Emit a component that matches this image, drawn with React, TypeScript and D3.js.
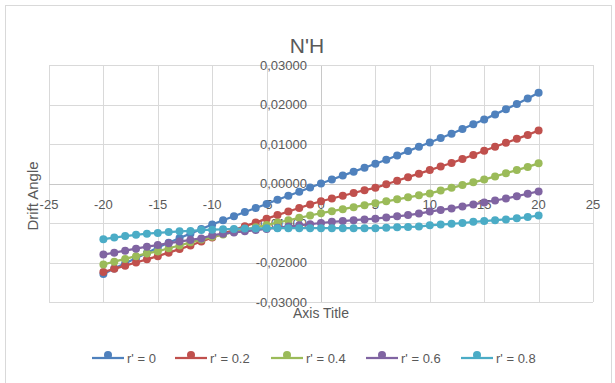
import React, { useEffect, useRef } from 'react';
import * as d3 from 'd3';

// drift angle sample points
const driftX = [-20, -19, -18, -17, -16, -15, -14, -13, -12, -11, -10, -9, -8, -7, -6, -5, -4, -3, -2, -1, 0,
  1, 2, 3, 4, 5, 6, 7, 8, 9, 10, 11, 12, 13, 14, 15, 16, 17, 18, 19, 20];

const r00 = [-0.0229, -0.0215, -0.0202, -0.0189, -0.0176, -0.0162, -0.0150, -0.0138, -0.0127, -0.0115, -0.0104,
  -0.0093, -0.0083, -0.0072, -0.0062, -0.0052, -0.0041, -0.0031, -0.0021, -0.0010, 0.0000,
  0.0010, 0.0020, 0.0030, 0.0040, 0.0050, 0.0060, 0.0071, 0.0082, 0.0093, 0.0104,
  0.0115, 0.0126, 0.0138, 0.0150, 0.0162, 0.0175, 0.0188, 0.0201, 0.0215, 0.0230];

const r02 = [-0.0224, -0.0216, -0.0208, -0.0200, -0.0192, -0.0184, -0.0175, -0.0166, -0.0157, -0.0147, -0.0137,
  -0.0127, -0.0118, -0.0108, -0.0099, -0.0089, -0.0080, -0.0071, -0.0062, -0.0053, -0.0045,
  -0.0038, -0.0031, -0.0024, -0.0017, -0.0011, -0.0002, 0.0007, 0.0016, 0.0025, 0.0034,
  0.0043, 0.0052, 0.0062, 0.0072, 0.0083, 0.0093, 0.0103, 0.0113, 0.0123, 0.0134];

const r04 = [-0.0205, -0.0198, -0.0191, -0.0184, -0.0177, -0.0172, -0.0164, -0.0157, -0.0149, -0.0142, -0.0135,
  -0.0129, -0.0123, -0.0117, -0.0111, -0.0105, -0.0099, -0.0093, -0.0087, -0.0081, -0.0075,
  -0.0070, -0.0065, -0.0060, -0.0055, -0.0050, -0.0045, -0.0040, -0.0035, -0.0030, -0.0025,
  -0.0018, -0.0011, -0.0004, 0.0003, 0.0010, 0.0018, 0.0026, 0.0034, 0.0042, 0.0051];

const r06 = [-0.0180, -0.0175, -0.0170, -0.0165, -0.0160, -0.0156, -0.0151, -0.0147, -0.0143, -0.0139, -0.0131,
  -0.0127, -0.0124, -0.0121, -0.0118, -0.0115, -0.0112, -0.0109, -0.0106, -0.0103, -0.0100,
  -0.0097, -0.0095, -0.0093, -0.0091, -0.0089, -0.0086, -0.0083, -0.0080, -0.0076, -0.0071,
  -0.0067, -0.0063, -0.0058, -0.0053, -0.0048, -0.0043, -0.0038, -0.0032, -0.0026, -0.0020];

const r08 = [-0.0141, -0.0137, -0.0133, -0.0130, -0.0127, -0.0125, -0.0123, -0.0121, -0.0120, -0.0118, -0.0117,
  -0.0116, -0.0115, -0.0114, -0.0114, -0.0113, -0.0113, -0.0113, -0.0113, -0.0113, -0.0113,
  -0.0113, -0.0113, -0.0113, -0.0113, -0.0113, -0.0112, -0.0111, -0.0110, -0.0109, -0.0106,
  -0.0104, -0.0102, -0.0100, -0.0097, -0.0095, -0.0093, -0.0091, -0.0088, -0.0085, -0.0081];

const seriesNames = ["r' = 0", "r' = 0.2", "r' = 0.4", "r' = 0.6", "r' = 0.8"];
const seriesValues = [r00, r02, r04, r06, r08];
const seriesColors = ['#4F81BD', '#C0504D', '#9BBB59', '#8064A2', '#4BACC6'];

const xTicks = [-25, -20, -15, -10, -5, 0, 5, 10, 15, 20, 25];
const yTicks = [-0.03, -0.02, -0.01, 0, 0.01, 0.02, 0.03];

const legendX = [92, 175, 271, 366, 461];

const App = () => {
  const svgRef = useRef<SVGSVGElement>(null);

  useEffect(() => {
    const width = 615;
    const height = 383;
    const font = "'Liberation Sans', Arial, sans-serif";
    const textColor = '#595959';

    const svg = d3.select(svgRef.current);
    svg.selectAll('*').remove();

    svg.append('rect').attr('width', width).attr('height', height).attr('fill', '#fff');
    // chart border
    svg.append('rect')
      .attr('x', 5.5).attr('y', 5.5)
      .attr('width', 606).attr('height', 420)
      .attr('fill', 'none').attr('stroke', '#d9d9d9');

    const x = d3.scaleLinear().domain([-25, 25]).range([49, 593]);
    const y = d3.scaleLinear().domain([-0.03, 0.03]).range([302, 65]);

    // grid
    svg.append('g').selectAll('line.v').data(xTicks).join('line')
      .attr('x1', d => Math.round(x(d)) + 0.5).attr('x2', d => Math.round(x(d)) + 0.5)
      .attr('y1', y(0.03)).attr('y2', y(-0.03))
      .attr('stroke', d => (d === 0 ? '#c8c8c8' : '#d9d9d9'));
    svg.append('g').selectAll('line.h').data(yTicks).join('line')
      .attr('y1', d => Math.round(y(d)) + 0.5).attr('y2', d => Math.round(y(d)) + 0.5)
      .attr('x1', x(-25)).attr('x2', x(25))
      .attr('stroke', d => (d === 0 ? '#c8c8c8' : '#d9d9d9'));

    // tick labels (under the series, as in the original)
    const fmtY = (v: number) => (v < 0 ? '-' : '') + Math.abs(v).toFixed(5).replace('.', ',');
    svg.append('g').selectAll('text').data(yTicks).join('text')
      .attr('x', x(0) - 14).attr('y', d => y(d) + 4.5)
      .attr('text-anchor', 'end')
      .attr('font-family', font).attr('font-size', 13).attr('fill', textColor)
      .text(d => fmtY(d));
    svg.append('g').selectAll('text').data(xTicks).join('text')
      .attr('x', d => x(d)).attr('y', y(0) + 25)
      .attr('text-anchor', 'middle')
      .attr('font-family', font).attr('font-size', 13).attr('fill', textColor)
      .text(d => String(d));

    // titles
    svg.append('text')
      .attr('x', 307).attr('y', 52.5).attr('text-anchor', 'middle')
      .attr('font-family', font).attr('font-size', 21).attr('fill', textColor)
      .text("N'H");
    svg.append('text')
      .attr('x', 321).attr('y', 318).attr('text-anchor', 'middle')
      .attr('font-family', font).attr('font-size', 14).attr('fill', textColor)
      .text('Axis Title');
    svg.append('text')
      .attr('transform', 'translate(38,196) rotate(-90)')
      .attr('text-anchor', 'middle')
      .attr('font-family', font).attr('font-size', 15).attr('fill', textColor)
      .text('Drift Angle');

    // series
    const line = d3.line<number>()
      .x((_, i) => x(driftX[i]))
      .y(d => y(d));

    seriesValues.forEach((vals, s) => {
      const g = svg.append('g');
      g.append('path')
        .attr('d', line(vals))
        .attr('fill', 'none')
        .attr('stroke', seriesColors[s])
        .attr('stroke-width', 2.25)
        .attr('stroke-linejoin', 'round');
      g.selectAll('circle').data(vals).join('circle')
        .attr('cx', (_, i) => x(driftX[i]))
        .attr('cy', d => y(d))
        .attr('r', 4)
        .attr('fill', seriesColors[s]);
    });

    // legend
    const legend = svg.append('g');
    seriesNames.forEach((name, i) => {
      const lx = legendX[i];
      const ly = 358;
      legend.append('line')
        .attr('x1', lx).attr('x2', lx + 32).attr('y1', ly).attr('y2', ly)
        .attr('stroke', seriesColors[i]).attr('stroke-width', 2.25);
      legend.append('circle')
        .attr('cx', lx + 16).attr('cy', ly - 3).attr('r', 4)
        .attr('fill', seriesColors[i]);
      legend.append('text')
        .attr('x', lx + 35).attr('y', ly + 4.5)
        .attr('font-family', font).attr('font-size', 13).attr('fill', textColor)
        .text(name);
    });
  }, []);

  return (
    <svg ref={svgRef} width={615} height={383}
      style={{ position: 'absolute', left: 0, top: 0, display: 'block' }} />
  );
};

export default App;
